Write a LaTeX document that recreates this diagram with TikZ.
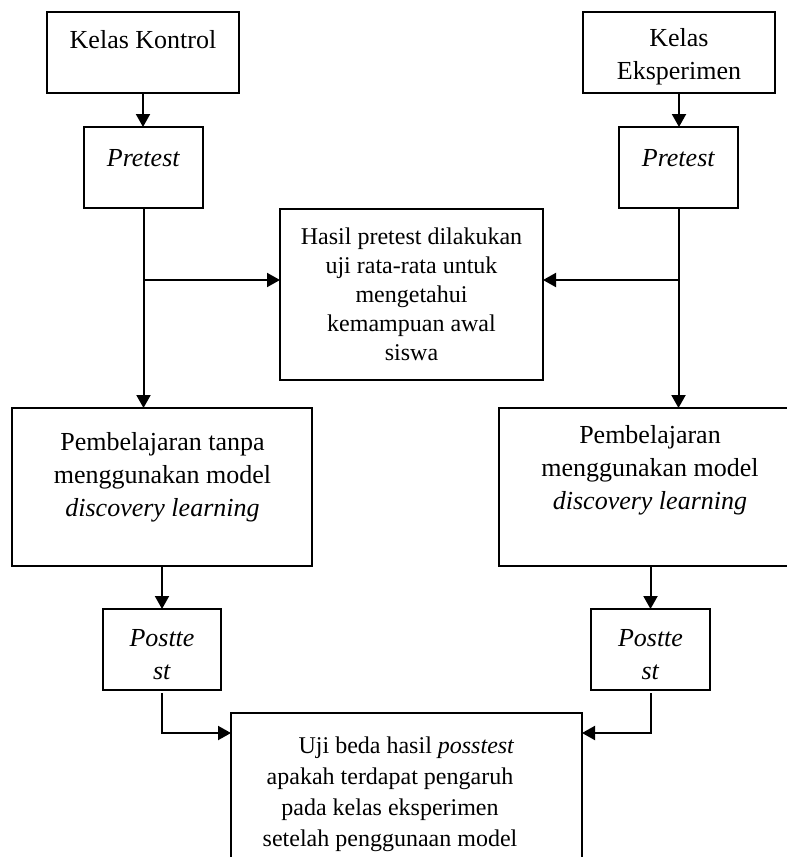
\documentclass[tikz,border=0pt]{standalone}
\usepackage{fontspec}
\setmainfont{Liberation Serif}
\usetikzlibrary{arrows.meta}
\begin{document}
\begin{tikzpicture}[x=1pt,y=-1pt,
  box/.style={draw,line width=1.8pt,inner sep=0pt,outer sep=0pt},
  txt/.style={align=center,inner sep=0pt},
  big/.style={font=\fontsize{26}{33}\selectfont},
  small/.style={font=\fontsize{24}{29}\selectfont},
  arr/.style={line width=2pt,-{Triangle[length=13pt,width=14pt]}}]
\clip (0,0) rectangle (787,857);
\fill[white] (0,0) rectangle (787,857);
% boxes
\node[box,minimum width=192pt,minimum height=81pt] (kk) at (143,52.5) {};
\node[box,minimum width=192pt,minimum height=81pt] (ke) at (679,52.5) {};
\node[box,minimum width=119pt,minimum height=81pt] (pl) at (143.5,167.5) {};
\node[box,minimum width=119pt,minimum height=81pt] (pr) at (678.5,167.5) {};
\node[box,minimum width=263pt,minimum height=171pt] (hasil) at (411.5,294.5) {};
\node[box,minimum width=300pt,minimum height=158pt] (bl) at (162,487) {};
\node[box,minimum width=302pt,minimum height=158pt] (br) at (650,487) {};
\node[box,minimum width=118pt,minimum height=81pt] (postl) at (162,649.5) {};
\node[box,minimum width=119pt,minimum height=81pt] (postr) at (650.5,649.5) {};
\node[box,minimum width=351pt,minimum height=200pt] (uji) at (406.5,813) {};
% texts
\node[txt,big] (tkk) at (143,40) {Kelas Kontrol};
\node[txt,big] (tke) at (679,57) {Kelas\\Eksperimen};
\node[txt,big] (tpl) at (143.5,158) {\textit{Pretest}};
\node[txt,big] (tpr) at (678.5,158) {\textit{Pretest}};
\node[txt,small] (thasil) at (411.5,294) {Hasil pretest dilakukan\\uji rata-rata untuk\\mengetahui\\kemampuan awal\\siswa};
\node[txt,big] (tbl) at (162.5,477) {Pembelajaran tanpa\\menggunakan model\\\textit{discovery learning}};
\node[txt,big] (tbr) at (650,470) {Pembelajaran\\menggunakan model\\\textit{discovery learning}};
\node[txt,big] (tpostl) at (162,655) {\textit{Postte}\\\textit{st}};
\node[txt,big] (tpostr) at (650.5,655) {\textit{Postte}\\\textit{st}};
\node[txt,font=\fontsize{24}{31}\selectfont,anchor=north] (tuji) at (390,737) {\hspace*{33pt}Uji beda hasil \textit{posstest}\\apakah terdapat pengaruh\\pada kelas eksperimen\\setelah penggunaan model};
% connectors
\draw[arr] (kk.south) -- (kk.south |- pl.north);
\draw[arr] (ke.south) -- (ke.south |- pr.north);
\draw[arr] (pl.south) -- (pl.south |- bl.north);
\draw[arr] (pr.south) -- (pr.south |- br.north);
\path (pl.south) ++(0,72) coordinate (jl);
\path (pr.south) ++(0,72) coordinate (jr);
\draw[arr] (jl) -- (jl -| hasil.west);
\draw[arr] (jr) -- (jr -| hasil.east);
\draw[arr] (bl.south -| postl.north) -- (postl.north);
\draw[arr] (br.south -| postr.north) -- (postr.north);
\draw[arr] ([yshift=-3pt]postl.south) |- ([yshift=-20pt]uji.north west);
\draw[arr] ([yshift=-3pt]postr.south) |- ([yshift=-20pt]uji.north east);
\end{tikzpicture}
\end{document}
